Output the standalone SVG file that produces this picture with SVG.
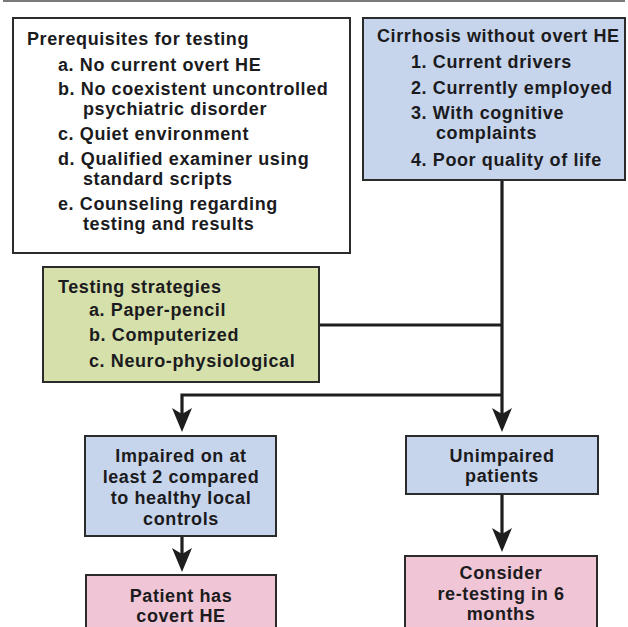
<svg xmlns="http://www.w3.org/2000/svg" width="628" height="627" viewBox="0 0 628 627">
<style>
.t{font-family:"Liberation Sans",Arial,sans-serif;font-weight:bold;font-size:18px;letter-spacing:0.6px;fill:#1b1b1e}
.c{text-anchor:middle}
.box{stroke:#2b2b2b;stroke-width:2}
.w{fill:#ffffff}
.b{fill:#c7d5ec}
.g{fill:#d6e0ab}
.p{fill:#f0c5d5}
.ln{fill:none;stroke:#1e1e1e;stroke-width:3.2}
</style>
<defs>
<marker id="ah" viewBox="0 0 24 20" refX="18" refY="10" markerWidth="24" markerHeight="20" markerUnits="userSpaceOnUse" orient="auto">
<path d="M24,10 L0,0 L6,10 L0,20 Z" fill="#1e1e1e"/>
</marker>
</defs>
<rect x="0" y="0" width="628" height="627" fill="#ffffff"/>
<rect x="3" y="0" width="622" height="2" fill="#7a7a7a"/>

<g id="connectors">
<path class="ln" d="M502,180 V426" marker-end="url(#ah)"/>
<path class="ln" d="M319,325 H502"/>
<path class="ln" d="M502,395 H182 V426" marker-end="url(#ah)"/>
<path class="ln" d="M182,536 V566" marker-end="url(#ah)"/>
<path class="ln" d="M502,494 V546" marker-end="url(#ah)"/>
</g>

<g id="prerequisites">
<rect class="box w" x="13" y="18" width="337" height="235"/>
<text class="t" x="27" y="45">Prerequisites for testing</text>
<text class="t" x="58" y="71">a. No current overt HE</text>
<text class="t" x="58" y="95">b. No coexistent uncontrolled</text>
<text class="t" x="83" y="115">psychiatric disorder</text>
<text class="t" x="58" y="140">c. Quiet environment</text>
<text class="t" x="58" y="165">d. Qualified examiner using</text>
<text class="t" x="83" y="185">standard scripts</text>
<text class="t" x="58" y="210">e. Counseling regarding</text>
<text class="t" x="83" y="230">testing and results</text>
</g>

<g id="cirrhosis">
<rect class="box b" x="363" y="18" width="262" height="162"/>
<text class="t" x="377" y="42">Cirrhosis without overt HE</text>
<text class="t" x="411" y="68">1. Current drivers</text>
<text class="t" x="411" y="94">2. Currently employed</text>
<text class="t" x="411" y="119">3. With cognitive</text>
<text class="t" x="436" y="139">complaints</text>
<text class="t" x="411" y="166">4. Poor quality of life</text>
</g>

<g id="testing-strategies">
<rect class="box g" x="43" y="267" width="276" height="115"/>
<text class="t" x="58" y="293">Testing strategies</text>
<text class="t" x="89" y="316">a. Paper-pencil</text>
<text class="t" x="89" y="341">b. Computerized</text>
<text class="t" x="89" y="367">c. Neuro-physiological</text>
</g>

<g id="impaired">
<rect class="box b" x="85" y="436" width="191" height="100"/>
<text class="t c" x="181" y="462">Impaired on at</text>
<text class="t c" x="181" y="483">least 2 compared</text>
<text class="t c" x="181" y="504">to healthy local</text>
<text class="t c" x="181" y="525">controls</text>
</g>

<g id="unimpaired">
<rect class="box b" x="406" y="436" width="192" height="58"/>
<text class="t c" x="502" y="462">Unimpaired</text>
<text class="t c" x="502" y="482">patients</text>
</g>

<g id="covert-he">
<rect class="box p" x="86" y="575" width="190" height="60"/>
<text class="t c" x="181" y="602">Patient has</text>
<text class="t c" x="181" y="622">covert HE</text>
</g>

<g id="retest">
<rect class="box p" x="405" y="556" width="192" height="80"/>
<text class="t c" x="501" y="579">Consider</text>
<text class="t c" x="501" y="600">re-testing in 6</text>
<text class="t c" x="501" y="620">months</text>
</g>
</svg>
